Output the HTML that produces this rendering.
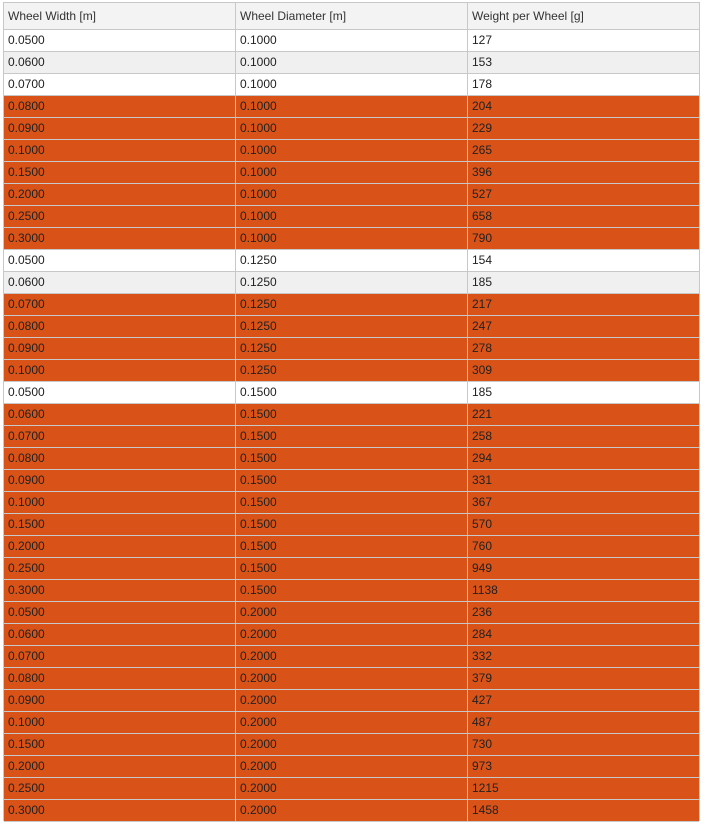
<!DOCTYPE html>
<html><head><meta charset="utf-8"><style>
body{margin:0;background:#fff;width:705px;height:825px;overflow:hidden;font-family:"Liberation Sans",Arial,sans-serif;font-size:12px;color:#212121}
#tbl{position:absolute;left:3px;top:2px;width:697px;height:819px;border:1px solid #c8c8c8;box-sizing:border-box}
.row{position:absolute;left:0;width:695px;height:22px;border-bottom:1px solid #c8c8c8;box-sizing:border-box}
.cell{position:absolute;top:0;height:21px;line-height:21px;padding-left:4px;box-sizing:border-box;border-right:1px solid #c8c8c8;white-space:nowrap}
.hdr{background:#f3f3f3;height:27px;color:#333}
.hdr .cell{height:26px;line-height:27px}
</style></head><body>
<div id="tbl"></div>
<script>
const widths=["0.0500","0.0600","0.0700","0.0800","0.0900","0.1000","0.1500","0.2000","0.2500","0.3000","0.0500","0.0600","0.0700","0.0800","0.0900","0.1000","0.0500","0.0600","0.0700","0.0800","0.0900","0.1000","0.1500","0.2000","0.2500","0.3000","0.0500","0.0600","0.0700","0.0800","0.0900","0.1000","0.1500","0.2000","0.2500","0.3000"];
const diams=["0.1000","0.1000","0.1000","0.1000","0.1000","0.1000","0.1000","0.1000","0.1000","0.1000","0.1250","0.1250","0.1250","0.1250","0.1250","0.1250","0.1500","0.1500","0.1500","0.1500","0.1500","0.1500","0.1500","0.1500","0.1500","0.1500","0.2000","0.2000","0.2000","0.2000","0.2000","0.2000","0.2000","0.2000","0.2000","0.2000"];
const weights=[127,153,178,204,229,265,396,527,658,790,154,185,217,247,278,309,185,221,258,294,331,367,570,760,949,1138,236,284,332,379,427,487,730,973,1215,1458];
const headers=["Wheel Width [m]","Wheel Diameter [m]","Weight per Wheel [g]"];
const colX=[0,232,464],colW=[232,232,231];
const tbl=document.getElementById('tbl');
function mkRow(vals,top,cls,bg){
  const r=document.createElement('div');
  r.className='row '+cls;r.style.top=top+'px';if(bg)r.style.background=bg;
  vals.forEach((v,i)=>{const c=document.createElement('div');c.className='cell';
    c.style.left=colX[i]+'px';c.style.width=colW[i]+'px';if(i==2)c.style.borderRight='none';
    c.textContent=v;
    
    
    r.appendChild(c);});
  tbl.appendChild(r);return r;
}
const h=mkRow(headers,0,'hdr');


let alt=0;
weights.forEach((w,i)=>{
  const hi=w>200&&!(i==11);
  let bg;
  const orange = !(i<3||i==10||i==11||i==16);
  if(orange){bg='#d95319';}else{bg=(i==1||i==11)?'#f0f0f0':'#ffffff';}
  const r=mkRow([widths[i],diams[i],String(w)],27+i*22,'',bg);
  
  
});
</script>
</body></html>
